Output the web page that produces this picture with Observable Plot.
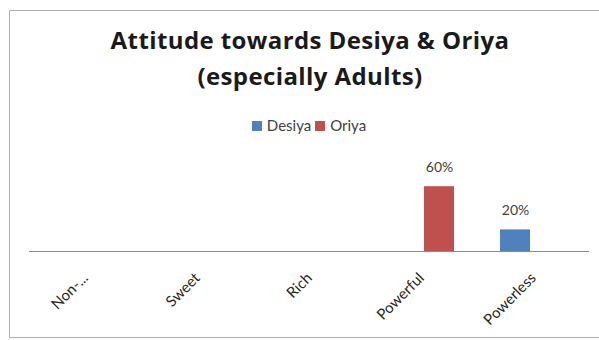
<!DOCTYPE html>
<html>
<head>
<meta charset="utf-8">
<script src="https://cdn.jsdelivr.net/npm/d3@7"></script>
<script src="https://cdn.jsdelivr.net/npm/@observablehq/plot@0.6"></script>
<style>
  body { margin: 0; background: #fff; }
  #wrap { position: relative; width: 599px; height: 340px; overflow: hidden; background: #fff; font-family: Lato, "Open Sans", sans-serif; }
  #frame { position: absolute; left: 9px; top: 10px; width: 600px; height: 328px; border: 1px solid #b0b0b0; box-sizing: border-box; }
  #title { position: absolute; left: 0; width: 620px; top: 22px; text-align: center; font-family: "Open Sans", sans-serif; font-size: 24px; font-weight: bold; letter-spacing: 0.4px; line-height: 36px; color: #1a1a1a; }
  #legend { position: absolute; left: 0; width: 618px; top: 116px; text-align: center; font-size: 15px; color: #404040; white-space: nowrap; }
  #legend span.sw { display: inline-block; width: 10px; height: 10px; margin-right: 5px; vertical-align: 0px; }
  #legend span.item { margin: 0 2px; }
  #chart { position: absolute; left: 0; top: 140px; }
</style>
</head>
<body>
<div id="wrap">
  <div id="frame"></div>
  <div id="title">Attitude towards Desiya &amp; Oriya<br>(especially Adults)</div>
  <div id="legend"></div>
  <div id="chart"></div>
</div>
<script>
const categories = ["Non-...", "Sweet", "Rich", "Powerful", "Powerless"];
const series = ["Desiya", "Oriya"];
const desiyaValues = [null, null, null, null, 0.20];
const oriyaValues = [null, null, null, 0.60, null];
const colors = ["#4F81BD", "#C0504D"];

const data = [];
categories.forEach((c, i) => {
  data.push({category: c, series: "Desiya", value: desiyaValues[i]});
  data.push({category: c, series: "Oriya", value: oriyaValues[i]});
});

// legend
const legend = document.getElementById("legend");
series.forEach((s, i) => {
  const item = document.createElement("span");
  item.className = "item";
  item.innerHTML = `<span class="sw" style="background:${colors[i]}"></span>${s}`;
  legend.appendChild(item);
});

const chart = Plot.plot({
  width: 599,
  height: 200,
  marginLeft: 28,
  marginRight: 9,
  marginTop: 3,
  marginBottom: 89,
  style: {fontFamily: "Lato, 'Open Sans', sans-serif", fontSize: "14px", color: "#404040", background: "transparent"},
  fx: {domain: categories, padding: 0, label: null},
  x: {domain: series, paddingInner: 0.16, paddingOuter: 0.6, axis: null},
  y: {domain: [0, 1], axis: null},
  color: {domain: series, range: colors},
  marks: [
    Plot.barY(data, {fx: "category", x: "series", y: "value", fill: "series"}),
    Plot.ruleY([0], {stroke: "#8c8c8c", strokeWidth: 1.2}),
    Plot.text(data, {fx: "category", x: "series", y: "value", text: d => d.value == null ? null : Math.round(d.value * 100) + "%", dy: -19, fill: "#404040", fontSize: 14}),
    Plot.axisFx({anchor: "bottom", tickSize: 0, tickPadding: 24, tickRotate: -45, fontSize: 15, label: null, fill: "#262626"})
  ]
});
document.getElementById("chart").appendChild(chart);
</script>
</body>
</html>
